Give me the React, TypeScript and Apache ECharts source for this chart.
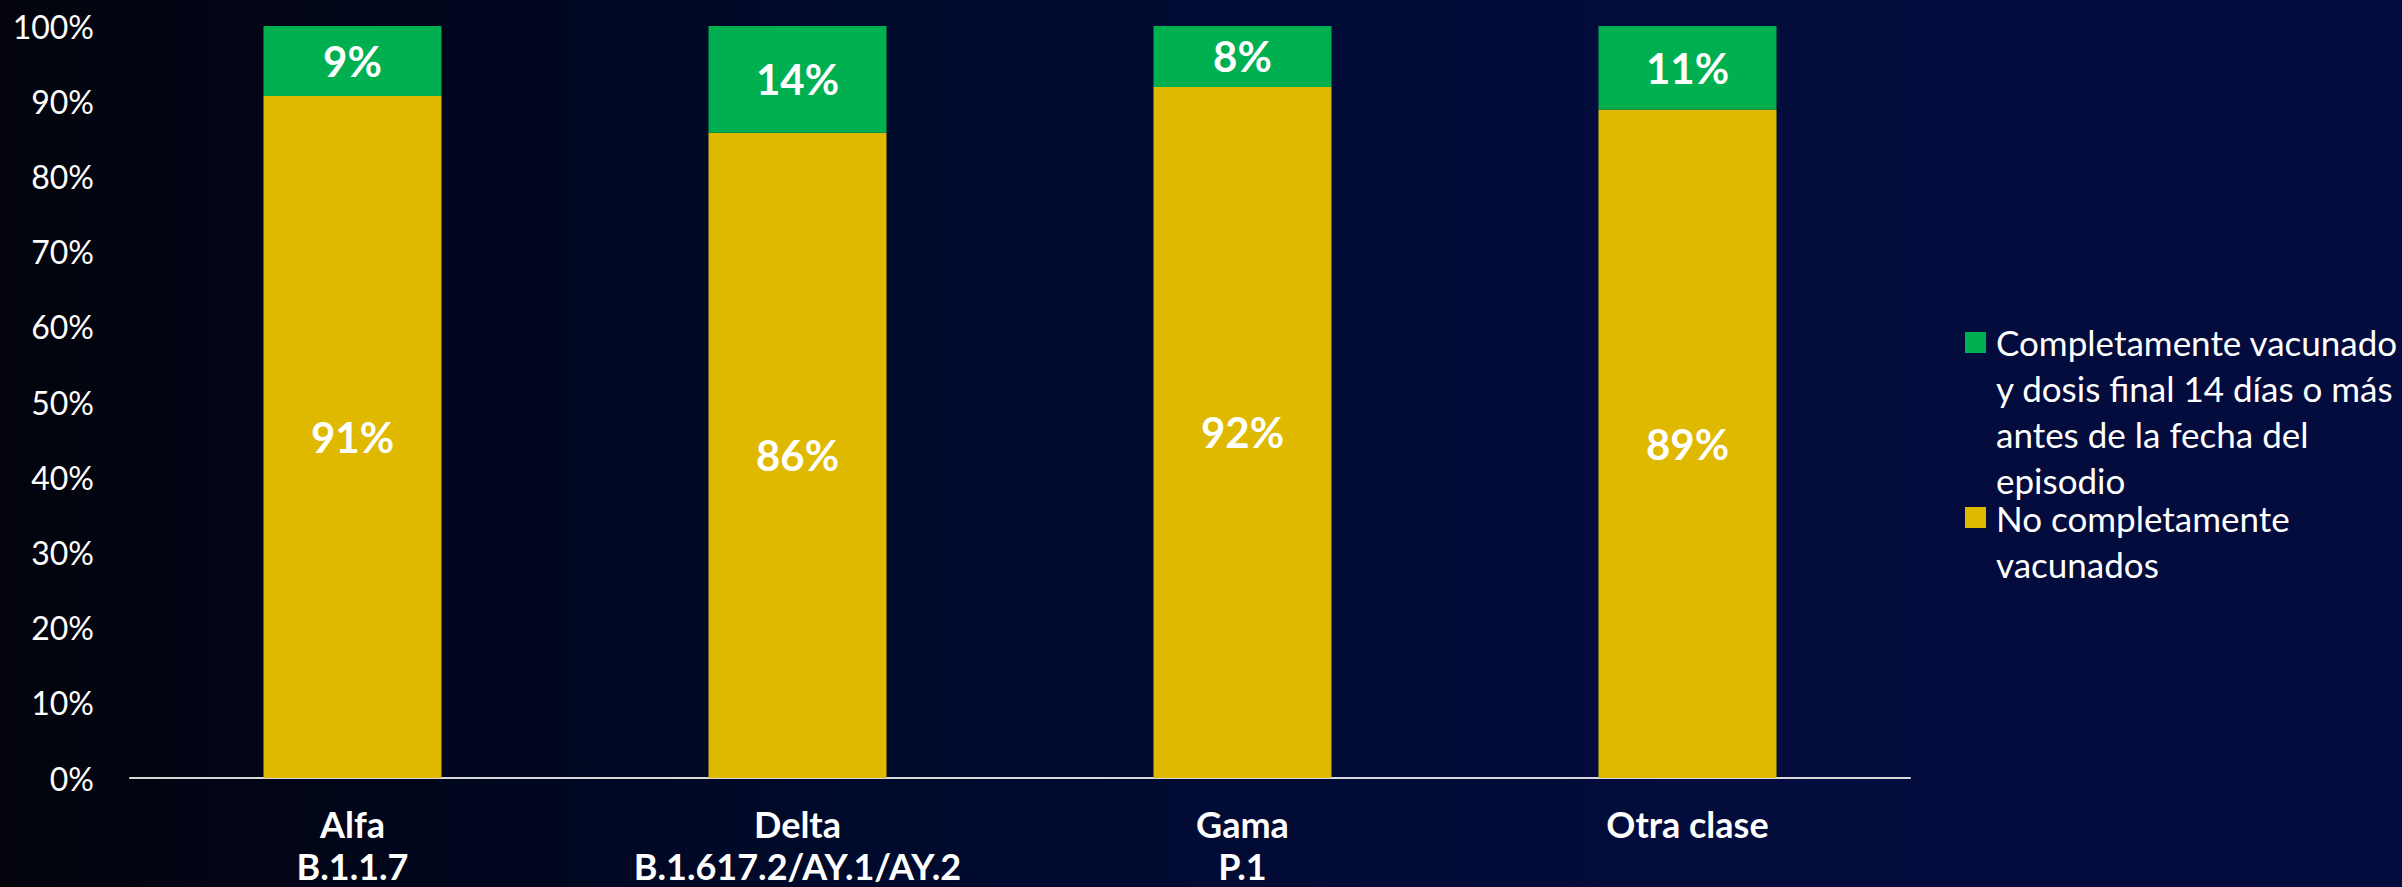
import React, { useEffect, useRef } from "react";
import * as echarts from "echarts";

const categories = ["Alfa\nB.1.1.7", "Delta\nB.1.617.2/AY.1/AY.2", "Gama\nP.1", "Otra clase"];
const notFullyVaccinated = [90.7, 85.8, 91.9, 88.9];
const fullyVaccinated = [9.3, 14.2, 8.1, 11.1];
const seriesNames = [
  "Completamente vacunado y dosis final 14 días o más antes de la fecha del episodio",
  "No completamente vacunados",
];
const legendLines = [
  ["Completamente vacunado", "y dosis final 14 días o más", "antes de la fecha del", "episodio"],
  ["No completamente", "vacunados"],
];
const yTicks = { min: 0, max: 100, interval: 10 };

const GREEN = "#00B050";
const YELLOW = "#DEB900";
const FONT = "Lato";

export default function App() {
  const ref = useRef<HTMLDivElement>(null);
  useEffect(() => {
    if (!ref.current) return;
    const chart = echarts.init(ref.current, null, { renderer: "svg" });
    const label = {
      show: true,
      position: "inside",
      color: "#ffffff",
      fontFamily: FONT,
      fontWeight: "bold",
      fontSize: 42,
      formatter: (p: any) => Math.round(p.value) + "%",
    };
    const legendItems = [
      { color: GREEN, squareY: 332, firstCenter: 342 },
      { color: YELLOW, squareY: 507, firstCenter: 517.5 },
    ];
    const graphic: any[] = [];
    legendItems.forEach((item, i) => {
      graphic.push({
        type: "rect",
        shape: { x: 1965, y: item.squareY, width: 21, height: 21 },
        style: { fill: item.color },
      });
      legendLines[i].forEach((line, j) => {
        graphic.push({
          type: "text",
          x: 1996,
          y: item.firstCenter + j * 46,
          style: {
            text: line,
            fill: "#ffffff",
            fontFamily: FONT,
            fontSize: 35,
            lineHeight: 36,
            verticalAlign: "middle",
            align: "left",
          },
        });
      });
    });
    chart.setOption({
      animation: false,
      backgroundColor: new echarts.graphic.LinearGradient(0, 0, 1, 0, [
        { offset: 0, color: "#03040c" },
        { offset: 0.2, color: "#00061e" },
        { offset: 0.35, color: "#000a2b" },
        { offset: 0.5, color: "#010b33" },
        { offset: 0.7, color: "#030c3b" },
        { offset: 1, color: "#030c3e" },
      ]),
      grid: {
        left: 130,
        right: 492,
        top: 26,
        bottom: 109,
        containLabel: false,
        outerBoundsMode: "none",
      },
      xAxis: {
        type: "category",
        data: categories,
        axisLine: { show: true, lineStyle: { color: "#d9d9d9", width: 2 } },
        axisTick: { show: false },
        axisLabel: {
          color: "#ffffff",
          fontFamily: FONT,
          fontWeight: "bold",
          fontSize: 36,
          lineHeight: 42,
          margin: 25,
          verticalAlign: "top",
        },
      },
      yAxis: {
        type: "value",
        min: yTicks.min,
        max: yTicks.max,
        interval: yTicks.interval,
        axisLine: { show: false },
        axisTick: { show: false },
        splitLine: { show: false },
        axisLabel: {
          color: "#ffffff",
          fontFamily: FONT,
          fontSize: 32,
          margin: 36,
          formatter: "{value}%",
        },
      },
      series: [
        {
          name: seriesNames[1],
          type: "bar",
          stack: "total",
          barWidth: "40%",
          data: notFullyVaccinated,
          itemStyle: { color: YELLOW },
          label,
        },
        {
          name: seriesNames[0],
          type: "bar",
          stack: "total",
          barWidth: "40%",
          data: fullyVaccinated,
          itemStyle: { color: GREEN },
          label,
        },
      ],
      graphic,
    });
    return () => chart.dispose();
  }, []);
  return (
    <div
      ref={ref}
      style={{ position: "fixed", left: 0, top: 0, width: 2402, height: 887 }}
    />
  );
}
